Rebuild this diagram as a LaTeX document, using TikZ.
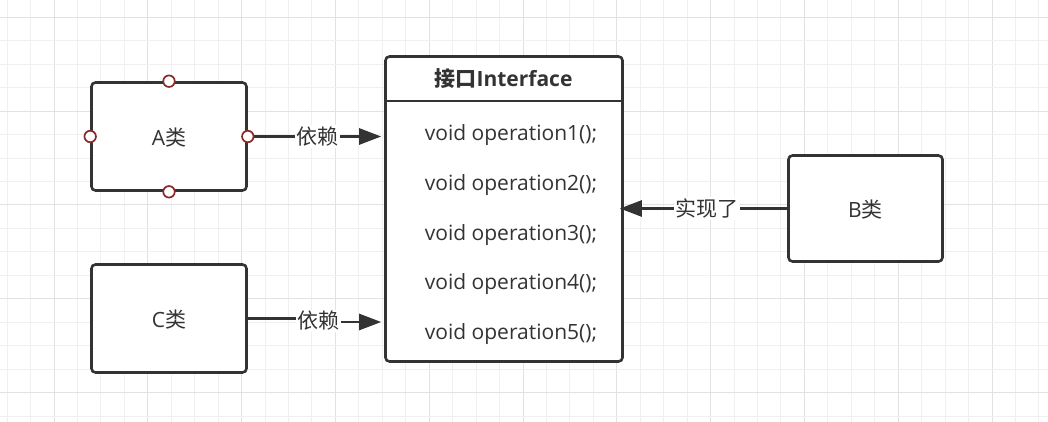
\documentclass[tikz,border=0pt]{standalone}
\usepackage{fontspec}
\setmainfont{Open Sans}
\newfontfamily\cjk{Noto Sans CJK SC}
\usetikzlibrary{arrows.meta}
\definecolor{ink}{HTML}{333333}
\definecolor{gridminor}{RGB}{240,240,240}
\definecolor{gridmajor}{RGB}{226,226,226}
\definecolor{portred}{RGB}{138,43,43}
\begin{document}
\begin{tikzpicture}[x=1pt,y=-1pt,
  box/.style={draw=ink, line width=2.6pt, fill=white, rounded corners=4pt, inner sep=0pt},
  txt/.style={text=ink, font=\fontsize{21}{25}\selectfont, inner sep=0pt},
  lbl/.style={fill=white, text=ink, font=\fontsize{21}{25}\selectfont, inner sep=1.5pt},
  conn/.style={draw=ink, line width=2.6pt, -{Triangle[length=22pt,width=16pt]}},
  port/.style={circle, draw=portred, fill=white, line width=1.7pt, minimum size=11.5pt, inner sep=0pt}]
\useasboundingbox (0,0) rectangle (1048,422);
\fill[white] (0,0) rectangle (1048,422);
% grid
\foreach \k in {0,...,44}{
  \pgfmathsetmacro\gx{7.1+23.45*\k}
  \pgfmathtruncatemacro\m{mod(\k,4)}
  \ifnum\m=2
    \draw[gridmajor, line width=1pt] (\gx,0) -- (\gx,422);
  \else
    \draw[gridminor, line width=1pt] (\gx,0) -- (\gx,422);
  \fi
}
\foreach \k in {1,...,18}{
  \pgfmathsetmacro\gy{-6.1+23.45*\k}
  \pgfmathtruncatemacro\m{mod(\k,4)}
  \ifnum\m=1
    \draw[gridmajor, line width=1pt] (0,\gy) -- (1048,\gy);
  \else
    \draw[gridminor, line width=1pt] (0,\gy) -- (1048,\gy);
  \fi
}
% boxes
\node[box, minimum width=155pt, minimum height=108pt] (A) at (169,136.5) {};
\node[txt] (At) at (169,138) {A{\cjk 类}};
\node[box, minimum width=155pt, minimum height=108pt] (C) at (169,318.5) {};
\node[txt] (Ct) at (169,320) {C{\cjk 类}};
\node[box, minimum width=154pt, minimum height=106pt] (B) at (865.5,208.5) {};
\node[txt] (Bt) at (865.5,210) {B{\cjk 类}};
\node[box, minimum width=237pt, minimum height=305pt] (I) at (504,209) {};
\draw[ink, line width=2.6pt] (I.west |- 0,101) -- (I.east |- 0,101);
\node[txt, font=\fontsize{21}{25}\selectfont\bfseries] (H) at (503.5,79) {{\cjk\bfseries 接口}Interface};
\node[txt] (o1) at (511,135) {void operation1();};
\node[txt] (o2) at (511,185) {void operation2();};
\node[txt] (o3) at (511,235) {void operation3();};
\node[txt] (o4) at (511,284) {void operation4();};
\node[txt] (o5) at (511,334) {void operation5();};
% connectors
\draw[conn, shorten >=3pt] (A.east) -- node[lbl, pos=0.514] {\cjk 依赖} (I.west |- A.east);
\draw[conn, shorten >=3pt] (C.east) -- ++(71,0) |- (I.west |- 0,322);
\node[lbl] (cl) at (318,321) {\cjk 依赖};
\draw[conn, shorten >=-4pt] (B.west) -- node[lbl, pos=0.49] {\cjk 实现了} (I.east |- B.west);
% ports
\node[port] (pn) at (A.north) {};
\node[port] (ps) at (A.south) {};
\node[port] (pw) at (A.west) {};
\node[port] (pe) at (A.east) {};
\end{tikzpicture}
\end{document}
